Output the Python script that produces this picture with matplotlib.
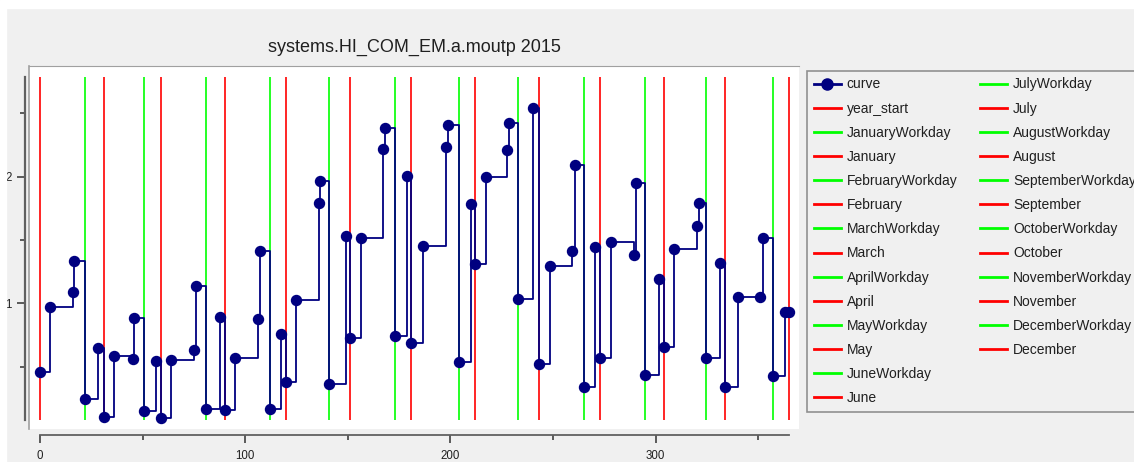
import matplotlib
matplotlib.use("Agg")
import matplotlib.pyplot as plt
from matplotlib.lines import Line2D
from matplotlib.patches import Rectangle
from matplotlib.ticker import MultipleLocator

plt.rcParams['font.family'] = ['Liberation Sans', 'DejaVu Sans']

# curve points (day of year, value)
days = [0, 5, 16, 16.5, 22, 28.5, 31, 36, 45.5, 46, 50.5, 56.5, 59, 64, 75, 76,
        81, 87.5, 90, 95, 106, 107, 112, 117.5, 120, 125, 136, 136.5, 141, 149,
        151, 156.5, 167, 168, 173, 179, 181, 186.5, 198, 199, 204, 210, 212,
        217.5, 227.5, 228.5, 233, 240.5, 243, 248.5, 259.5, 260.5, 265, 270.5,
        273, 278.5, 289.5, 290.5, 295, 301.5, 304, 309, 320, 321, 324.5, 331.5,
        334, 340, 351, 352.5, 357, 363, 365]
values = [0.46, 0.97, 1.09, 1.33, 0.24, 0.645, 0.105, 0.587, 0.558, 0.88, 0.152,
          0.542, 0.097, 0.552, 0.63, 1.14, 0.163, 0.89, 0.158, 0.571, 0.874,
          1.415, 0.163, 0.758, 0.381, 1.026, 1.789, 1.965, 0.363, 1.534, 0.729,
          1.515, 2.218, 2.381, 0.745, 2.007, 0.689, 1.452, 2.236, 2.41, 0.534,
          1.781, 1.31, 2.0, 2.21, 2.42, 1.034, 2.544, 0.518, 1.297, 1.415, 2.09,
          0.342, 1.444, 0.571, 1.481, 1.381, 1.947, 0.437, 1.19, 0.655, 1.426,
          1.61, 1.789, 0.571, 1.316, 0.342, 1.05, 1.05, 1.518, 0.426, 0.929, 0.929]

year_start = 0
months = ['January', 'February', 'March', 'April', 'May', 'June', 'July',
          'August', 'September', 'October', 'November', 'December']
month_ends = [31, 59, 90, 120, 151, 181, 212, 243, 273, 304, 334, 365]
workdays = [22, 50.5, 81, 112, 141, 173, 204, 233, 265, 295, 324.5, 357]

title = "systems.HI_COM_EM.a.moutp 2015"

W, H = 1134, 462
fig = plt.figure(figsize=(W / 100, H / 100), dpi=100, facecolor='#f0f0f0')
ax = fig.add_axes([29 / W, 1 - 429 / H, 770 / W, 363 / H], facecolor='white')

line_lo, line_hi = 0.078, 2.787
red = '#ff0000'
green = '#00ff00'

ax.vlines([year_start] + month_ends, line_lo, line_hi, colors=red, lw=1.2, zorder=1)
ax.vlines(workdays, line_lo, line_hi, colors=green, lw=1.2, zorder=1)
ax.plot(days, values, drawstyle='steps-post', color='#000080', lw=1.3, zorder=2)
ax.plot(days, values, 'o', color='#000080', ms=7.2, zorder=3)

ax.set_xlim(-5.36, 369.9)
ax.set_ylim(0.007, 2.874)

# axis lines sit outside the white panel
ax.spines['right'].set_visible(False)
ax.spines['top'].set_color('#a0a0a0')
ax.spines['left'].set_position(('outward', 3))
ax.spines['left'].set_bounds(line_lo, line_hi)
ax.spines['left'].set_color('#606060')
ax.spines['left'].set_linewidth(1.6)
ax.spines['bottom'].set_position(('outward', 4))
ax.spines['bottom'].set_bounds(0, 365)
ax.spines['bottom'].set_color('#606060')
ax.spines['bottom'].set_linewidth(1.3)
ax.add_line(Line2D([0, 0], [0, 1], transform=ax.transAxes, color='#a0a0a0',
                   lw=1.2, clip_on=False))

ax.xaxis.set_major_locator(MultipleLocator(100))
ax.xaxis.set_minor_locator(MultipleLocator(50))
ax.yaxis.set_major_locator(MultipleLocator(1))
ax.yaxis.set_minor_locator(MultipleLocator(0.5))
ax.tick_params(which='major', length=6, width=1.2, color='#404040',
               labelsize=8.3, labelcolor='#202020', pad=3.5)
ax.tick_params(axis='x', which='major', pad=4.8)
ax.tick_params(which='minor', length=3.5, width=1.2, color='#404040')

fig.text(414 / W, 1 - 52 / H, title, ha='center', va='baseline',
         fontsize=13, color='#202020')

handles = [Line2D([], [], color='#000080', lw=2, marker='o', ms=8),
           Line2D([], [], color=red, lw=2)]
labels = ['curve', 'year_start']
for m in months:
    handles += [Line2D([], [], color=green, lw=2), Line2D([], [], color=red, lw=2)]
    labels += [m + 'Workday', m]
# two empty slots so the first column holds 14 rows
handles += [Line2D([], [], alpha=0)] * 2
labels += ['', '']

leg = fig.legend(handles, labels, loc='upper left', ncols=2,
                 bbox_to_anchor=(807 / W, 1 - 70.5 / H), borderaxespad=0,
                 fontsize=10, labelspacing=0.73, handlelength=1.95,
                 handletextpad=0.4, columnspacing=1.66, borderpad=0.5,
                 fancybox=False, framealpha=1, facecolor='#f0f0f0',
                 edgecolor='#909090')
leg.get_frame().set_linewidth(1.2)
for t in leg.get_texts():
    t.set_color('#202020')

# thin white strips along the top and left edge of the image
fig.patches.append(Rectangle((0, 0), 6 / W, 1, transform=fig.transFigure,
                             color='white', zorder=10))
fig.patches.append(Rectangle((0, 1 - 8 / H), 1, 8 / H, transform=fig.transFigure,
                             color='white', zorder=10))

fig.savefig('out.png', dpi=100, facecolor=fig.get_facecolor())
